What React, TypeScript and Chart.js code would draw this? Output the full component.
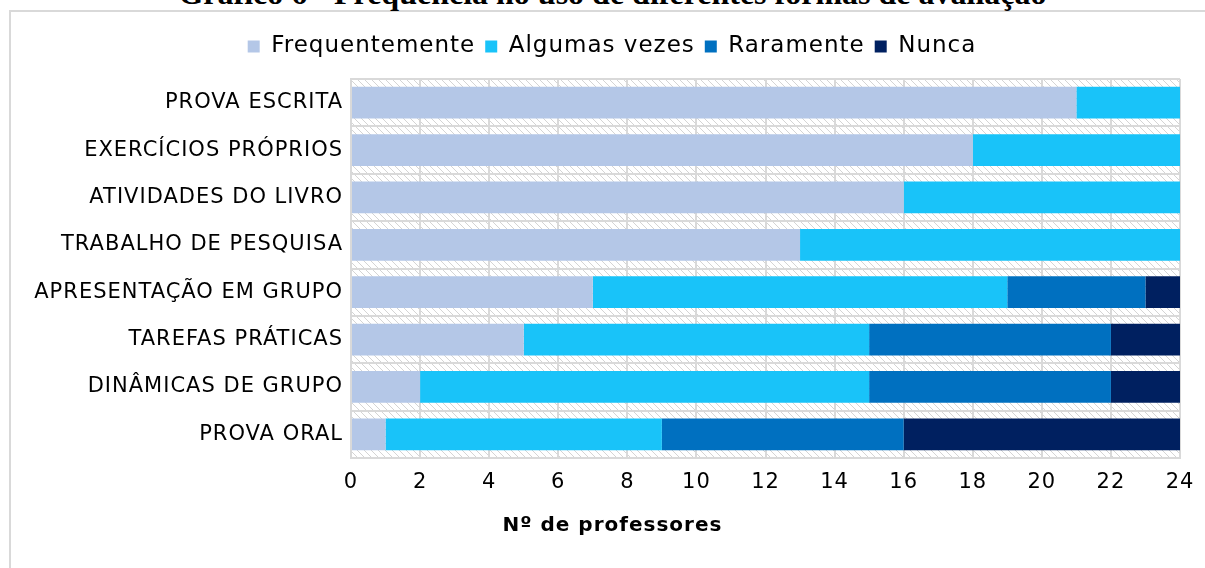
import React, { useEffect, useRef } from "react";
import { Chart, registerables } from "chart.js";
Chart.register(...registerables);

const categories = [
  "PROVA ESCRITA",
  "EXERCÍCIOS PRÓPRIOS",
  "ATIVIDADES DO LIVRO",
  "TRABALHO DE PESQUISA",
  "APRESENTAÇÃO EM GRUPO",
  "TAREFAS PRÁTICAS",
  "DINÂMICAS DE GRUPO",
  "PROVA ORAL",
];
const seriesNames = ["Frequentemente", "Algumas vezes", "Raramente", "Nunca"];
const frequentemente = [21, 18, 16, 13, 7, 5, 2, 1];
const algumasVezes = [3, 6, 8, 11, 12, 10, 13, 8];
const raramente = [0, 0, 0, 0, 4, 7, 7, 7];
const nunca = [0, 0, 0, 0, 1, 2, 2, 8];
const xMin = 0;
const xMax = 24;
const xStep = 2;

const title = "Gráfico 6 - Frequência no uso de diferentes formas de avaliação";
const axisTitle = "Nº de professores";

const colors = ["#B4C7E7", "#19C3F9", "#0070C0", "#002060"];
const GRID = "#d9d9d9";
const LS = "1px";
const FONT = "'DejaVu Sans', sans-serif";
const LEGEND_EXTRA = 11;
const LEGEND_SHIFT = 17;

function makeHatch(ctx: CanvasRenderingContext2D) {
  const c = document.createElement("canvas");
  c.width = 7;
  c.height = 7;
  const g = c.getContext("2d")!;
  g.fillStyle = "#ffffff";
  g.fillRect(0, 0, 7, 7);
  g.strokeStyle = "#d4d4d4";
  g.lineWidth = 1;
  g.beginPath();
  g.moveTo(-1, -1);
  g.lineTo(8, 8);
  g.stroke();
  return ctx.createPattern(c, "repeat");
}

const hatchPlugin = {
  id: "hatchBg",
  beforeUpdate(chart: any) {
    chart.ctx.letterSpacing = LS;
  },
  beforeLayout(chart: any) {
    const lg = chart.legend;
    if (lg && !lg._patchedFit) {
      const orig = lg.fit.bind(lg);
      lg.fit = function () {
        orig();
        this.height += LEGEND_EXTRA;
      };
      lg._patchedFit = true;
    }
  },
  afterLayout(chart: any) {
    const lg = chart.legend;
    if (lg) {
      lg.left += LEGEND_SHIFT;
      lg.right += LEGEND_SHIFT;
    }
  },
  beforeDraw(chart: any) {
    const { ctx, chartArea } = chart;
    ctx.letterSpacing = LS;
    const p = makeHatch(ctx);
    ctx.save();
    if (p) ctx.fillStyle = p;
    ctx.fillRect(chartArea.left, chartArea.top, chartArea.right - chartArea.left, chartArea.bottom - chartArea.top);
    ctx.restore();
  },
};

export default function App() {
  const ref = useRef<HTMLCanvasElement | null>(null);
  useEffect(() => {
    if (!ref.current) return;
    const seriesData = [frequentemente, algumasVezes, raramente, nunca];
    const chart = new Chart(ref.current, {
      type: "bar",
      data: {
        labels: categories,
        datasets: seriesNames.map((n, i) => ({
          label: n,
          data: seriesData[i],
          backgroundColor: colors[i],
          borderWidth: 0,
          categoryPercentage: 1,
          barPercentage: 0.67,
        })),
      },
      options: {
        indexAxis: "y",
        responsive: false,
        animation: false,
        devicePixelRatio: 1,
        layout: { padding: { top: 13, right: 35, bottom: 70, left: 0 } },
        plugins: {
          legend: {
            position: "top",
            labels: {
              boxWidth: 12,
              boxHeight: 12,
              padding: 10,
              color: "#000",
              font: { family: FONT, size: 23 },
            },
          },
          tooltip: { enabled: false },
          title: { display: false },
        },
        scales: {
          x: {
            stacked: true,
            min: xMin,
            max: xMax,
            ticks: { stepSize: xStep, color: "#000", font: { family: FONT, size: 21 }, padding: 12 },
            grid: { color: GRID, lineWidth: 2, drawTicks: false },
            border: { color: GRID, width: 2 },
            afterFit: (s: any) => {
              s.height = 40;
            },
          },
          y: {
            stacked: true,
            ticks: { color: "#000", font: { family: FONT, size: 21 }, padding: 8 },
            grid: { color: GRID, lineWidth: 2, drawTicks: false, offset: true },
            border: { color: GRID, width: 2 },
            afterFit: (s: any) => {
              s.width = 341;
            },
          },
        },
      } as any,
      plugins: [hatchPlugin],
    });
    return () => chart.destroy();
  }, []);

  return (
    <div style={{ position: "fixed", left: 0, top: 0, width: 1205, height: 568, overflow: "hidden", background: "#fff" }}>
      <div
        style={{
          position: "absolute",
          left: 9,
          top: 10,
          width: 2000,
          height: 2000,
          borderLeft: `2px solid ${GRID}`,
          borderTop: `2px solid ${GRID}`,
        }}
      />
      <div
        style={{
          position: "absolute",
          left: 10,
          top: -23,
          width: 1205,
          textAlign: "center",
          fontFamily: "'Liberation Serif', serif",
          fontWeight: "bold",
          fontSize: 32,
          lineHeight: "32px",
          whiteSpace: "nowrap",
        }}
      >
        {title}
      </div>
      <canvas
        ref={ref}
        width={1205}
        height={556}
        style={{ position: "absolute", left: 10, top: 12, width: 1205, height: 556 }}
      />
      <div
        style={{
          position: "absolute",
          left: 10,
          top: 514,
          width: 1205,
          textAlign: "center",
          fontFamily: FONT,
          fontWeight: "bold",
          fontSize: 20,
          lineHeight: "20px",
          letterSpacing: "1px",
          whiteSpace: "nowrap",
        }}
      >
        {axisTitle}
      </div>
    </div>
  );
}
